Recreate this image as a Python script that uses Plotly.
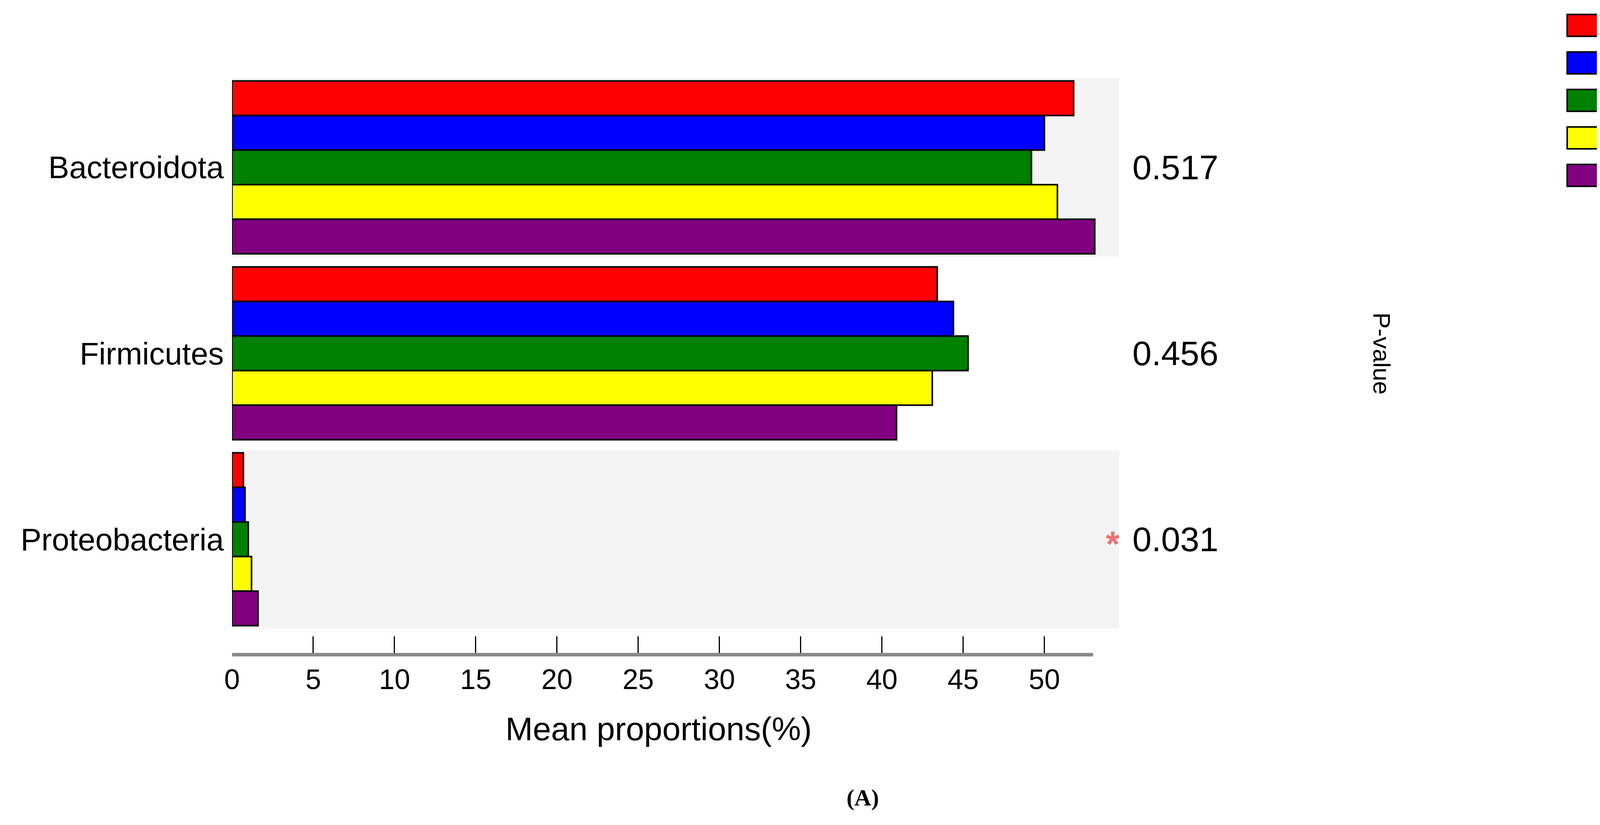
import plotly.graph_objects as go

# ---- data ----
phyla = ["Bacteroidota", "Firmicutes", "Proteobacteria"]
groups = ["VB_0", "VB_0.5", "VB_1", "VB_2", "VB_4"]
colors = ["#ff0000", "#0000ff", "#008000", "#ffff00", "#800080"]
means = {
    "VB_0":   [51.8, 43.4, 0.7],
    "VB_0.5": [50.0, 44.4, 0.8],
    "VB_1":   [49.2, 45.3, 1.0],
    "VB_2":   [50.8, 43.1, 1.2],
    "VB_4":   [53.1, 40.9, 1.6],
}
pvalues = ["0.517", "0.456", "0.031"]
significant = [False, False, True]
xticks = list(range(0, 55, 5))

W, H = 4421, 2112
L, R = 586, 2857      # plot area in px
T, B = 192, 1668
PANEL_BOTTOM = 1601
FONT = "Liberation Sans, Arial, sans-serif"


def px_x(p):
    return (p - L) / (R - L)


def px_y(p):
    return (B - p) / (B - T)


fig = go.Figure()
for g, c in zip(groups, colors):
    fig.add_trace(go.Bar(
        y=phyla, x=means[g], name=g, orientation="h",
        marker=dict(color=c, line=dict(color="black", width=4)),
        showlegend=False,
    ))

shapes = []
# shaded panels for alternating rows
for i, ph in enumerate(phyla):
    if i % 2 == 0:
        shapes.append(dict(type="rect", xref="x", yref="y", layer="below",
                           x0=0, x1=54.6, y0=i - 0.48, y1=i + 0.48,
                           fillcolor="#f4f4f4", line=dict(width=0)))
# axis line
shapes.append(dict(type="line", xref="x", yref="paper", x0=0, x1=53,
                   y0=0, y1=0, line=dict(color="#888888", width=9)))

annotations = []
for i, (pv, sig) in enumerate(zip(pvalues, significant)):
    annotations.append(dict(x=px_x(3113), y=phyla[i], xref="paper", yref="y",
                            text=pv, showarrow=False,
                            font=dict(size=88, family=FONT, color="black")))
    if sig:
        annotations.append(dict(x=px_x(2860), y=phyla[i], xref="paper", yref="y",
                                text="<b>*</b>", showarrow=False, yshift=-12,
                                font=dict(size=90, family=FONT, color="#f07070")))
annotations.append(dict(x=px_x(3566), y=phyla[1], xref="paper", yref="y",
                        text="P-value", textangle=90, showarrow=False,
                        font=dict(size=62, family=FONT, color="black")))
annotations.append(dict(x=px_x(1678), y=px_y(1907), xref="paper", yref="paper",
                        text="Mean proportions(%)", showarrow=False,
                        font=dict(size=84, family=FONT, color="black")))
annotations.append(dict(x=px_x(2244), y=px_y(2069), xref="paper", yref="paper",
                        text="<b>(A)</b>", showarrow=False,
                        font=dict(size=60, family="Liberation Serif, serif",
                                  color="black")))

# custom legend with large boxes
for k, (g, c) in enumerate(zip(groups, colors)):
    yc = 57 + k * 96
    shapes.append(dict(type="rect", xref="paper", yref="paper",
                       x0=px_x(4004), x1=px_x(4146),
                       y0=px_y(yc - 28), y1=px_y(yc + 28),
                       fillcolor=c, line=dict(color="black", width=4)))
    annotations.append(dict(x=px_x(4155), y=px_y(yc), xref="paper", yref="paper",
                            text=g, xanchor="left", showarrow=False,
                            font=dict(size=62, family=FONT, color="black")))

fig.update_layout(
    width=W, height=H,
    margin=dict(l=L, r=W - R, t=T, b=H - B),
    plot_bgcolor="white", paper_bgcolor="white",
    barmode="group", bargap=0.07, bargroupgap=0,
    shapes=shapes, annotations=annotations,
    font=dict(family=FONT, color="black"),
)
fig.update_xaxes(range=[0, 54.6], tickvals=xticks, ticks="inside", ticklen=47,
                 tickwidth=3, tickcolor="black", showgrid=False, zeroline=False,
                 showline=False, tickfont=dict(size=72, family=FONT),
                 ticklabelstandoff=15, anchor="free", position=0)
fig.update_yaxes(range=[2.48, -0.48],
                 domain=[(B - PANEL_BOTTOM) / (B - T), 1],
                 showgrid=False, zeroline=False, showline=False, ticks="",
                 tickfont=dict(size=80, family=FONT), ticklabelstandoff=20)

fig.write_html("out.html")
